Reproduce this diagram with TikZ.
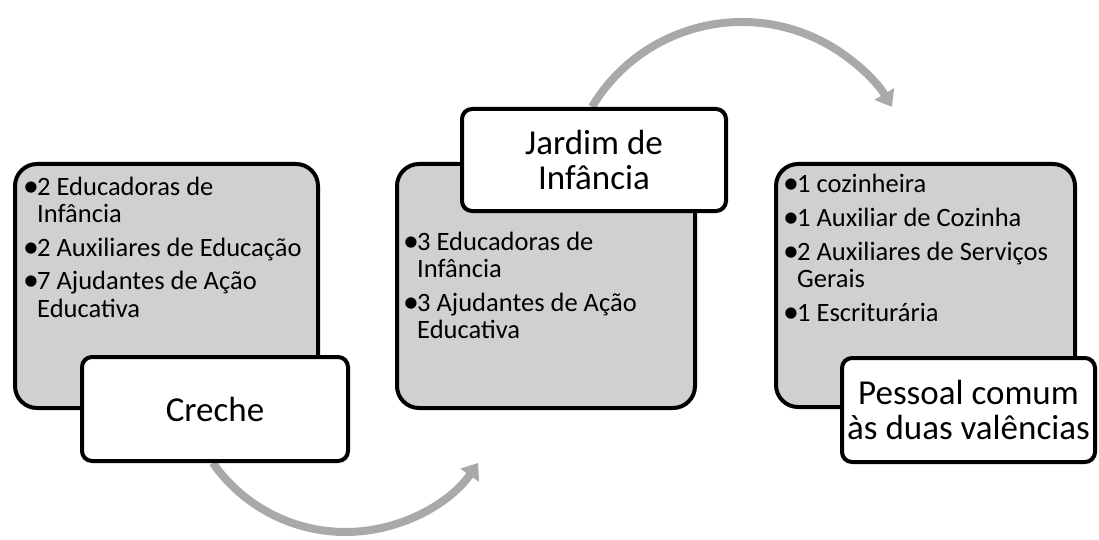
\documentclass[tikz,border=0pt]{standalone}
\usepackage{fontspec}
\usepackage{graphicx}
\setmainfont{Carlito}
\usetikzlibrary{arrows.meta}
\definecolor{boxgray}{RGB}{208,208,208}
\definecolor{arrgray}{RGB}{169,169,169}
\newcommand\bl{\makebox[14pt][l]{\raisebox{-0.04em}{\scalebox{1.2}{•}}}}
\newcommand\ind{\hspace*{14pt}}
\begin{document}
\begin{tikzpicture}[x=1pt,y=1pt,
 panel/.style={draw=black, line width=4pt, fill=boxgray, rounded corners=22pt, anchor=north west, inner sep=0},
 titlebox/.style={draw=black, line width=4pt, fill=white, rounded corners=10pt, inner sep=0, align=center, font=\fontsize{35}{35}\selectfont},
 listtext/.style={anchor=base west, inner sep=0, font=\fontsize{26.5}{27.5}\selectfont},
 flow/.style={draw=arrgray, line width=8pt, -{Triangle[width=22pt,length=15pt]}}]
\useasboundingbox (0,0) rectangle (1099,539);
% arrows (behind)
\coordinate (b0) at (345.5,169);
\coordinate (t0) at (742,342);
\draw[flow] ([shift={(-145:162)}]b0) arc[start angle=-145,end angle=-35,radius=162];
\draw[flow] ([shift={(149:175)}]t0) arc[start angle=149,end angle=31,radius=175];
% panel 1
\node[panel, minimum width=303, minimum height=244] (p1) at (13,377) {};
\node[listtext] (l1) at (23,344) {\begin{tabular}[t]{@{}l@{}}\bl 2 Educadoras de\\ \ind Infância\\[6pt] \bl 2 Auxiliares de Educação\\[6pt] \bl 7 Ajudantes de Ação\\ \ind Educativa\end{tabular}};
\node[titlebox, minimum width=266, minimum height=104] (t1) at (215,130) {Creche};
% panel 2
\node[panel, minimum width=298, minimum height=244] (p2) at (395,377) {};
\node[listtext] (l2) at (403,289) {\begin{tabular}[t]{@{}l@{}}\bl 3 Educadoras de\\ \ind Infância\\[6pt] \bl 3 Ajudantes de Ação\\ \ind Educativa\end{tabular}};
\node[titlebox, minimum width=264, minimum height=102] (t2) at (594,379) {Jardim de\\Infância};
% panel 3
\node[panel, minimum width=299, minimum height=243] (p3) at (774,377) {};
\node[listtext] (l3) at (783,347) {\begin{tabular}[t]{@{}l@{}}\bl 1 cozinheira\\[6.5pt] \bl 1 Auxiliar de Cozinha\\[6.5pt] \bl 2 Auxiliares de Serviços\\ \ind Gerais\\[6.5pt] \bl 1 Escriturária\end{tabular}};
\node[titlebox, minimum width=253, minimum height=104] (t3) at (968.5,129) {Pessoal comum\\às duas valências};
\end{tikzpicture}
\end{document}
